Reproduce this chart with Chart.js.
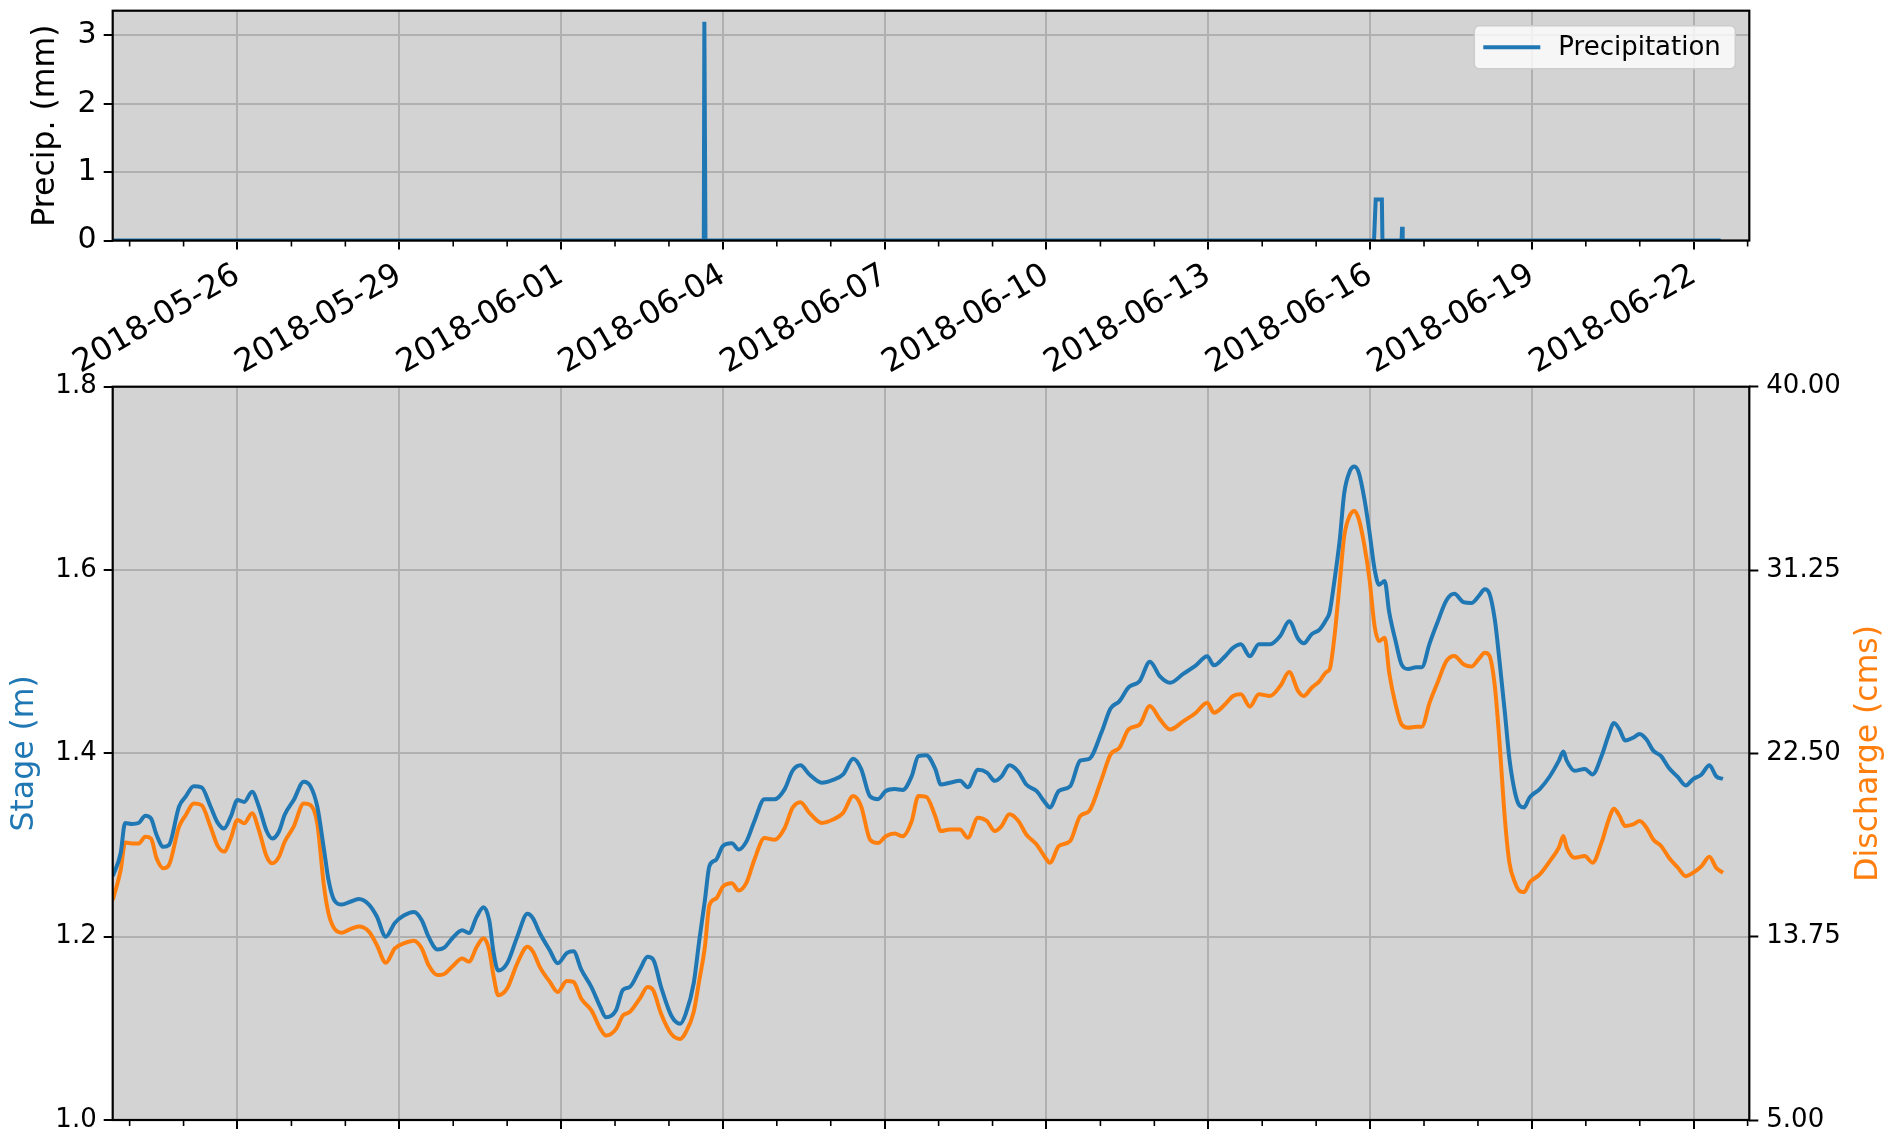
<!DOCTYPE html>
<html>
<head>
<meta charset="utf-8">
<title>Precipitation, stage and discharge</title>
<script src="https://cdn.jsdelivr.net/npm/chart.js@4.4.1/dist/chart.umd.min.js"></script>
<style>
    html, body { margin: 0; padding: 0; background: #ffffff; }
    #wrap { position: relative; width: 1887px; height: 1137px; overflow: hidden; }
    #wrap canvas { position: absolute; left: 0; }
    #precip-chart { top: 0; }
    #stage-chart { top: 360px; }
</style>
</head>
<body>
<div id="wrap">
    <canvas id="precip-chart" width="1887" height="390"></canvas>
    <canvas id="stage-chart" width="1887" height="777"></canvas>
</div>
<script>
// ==================== DATA ====================

// ---- Precipitation (mm) ----
const precipTimes = [
    '2018-05-23 16:30', '2018-06-03 15:30', '2018-06-03 15:45', '2018-06-03 16:00', '2018-06-03 16:15',
    '2018-06-16 01:45', '2018-06-16 02:30', '2018-06-16 05:15', '2018-06-16 05:30',
    '2018-06-16 14:00', '2018-06-16 14:15', '2018-06-16 14:30', '2018-06-22 12:00'
];
const precipValues = [0, 0, 3.2, 3.2, 0, 0, 0.6, 0.6, 0, 0, 0.2, 0, 0];

// ---- Gauge readings: stage (m) and discharge (cms) ----
const gaugeTimes = [
    '2018-05-23 16:30', '2018-05-23 20:00', '2018-05-23 22:00', '2018-05-24 01:00', '2018-05-24 04:00',
    '2018-05-24 07:00', '2018-05-24 09:30', '2018-05-24 12:00', '2018-05-24 15:00', '2018-05-24 17:30',
    '2018-05-24 22:00', '2018-05-25 01:00', '2018-05-25 04:30', '2018-05-25 08:00', '2018-05-25 12:00',
    '2018-05-25 15:00', '2018-05-25 18:00', '2018-05-25 21:00', '2018-05-26 00:00', '2018-05-26 03:00',
    '2018-05-26 06:30', '2018-05-26 09:30', '2018-05-26 13:00', '2018-05-26 15:30', '2018-05-26 18:30',
    '2018-05-26 21:00', '2018-05-27 01:00', '2018-05-27 05:30', '2018-05-27 08:30', '2018-05-27 11:30',
    '2018-05-27 14:30', '2018-05-27 16:30', '2018-05-27 19:00', '2018-05-27 22:30', '2018-05-28 02:00',
    '2018-05-28 06:00', '2018-05-28 10:30', '2018-05-28 14:00', '2018-05-28 18:00', '2018-05-28 22:00',
    '2018-05-29 02:00', '2018-05-29 06:30', '2018-05-29 10:00', '2018-05-29 13:00', '2018-05-29 17:00',
    '2018-05-29 20:00', '2018-05-29 23:30', '2018-05-30 04:00', '2018-05-30 07:00', '2018-05-30 10:30',
    '2018-05-30 13:30', '2018-05-30 16:00', '2018-05-30 18:00', '2018-05-30 20:00', '2018-05-31 00:00',
    '2018-05-31 04:30', '2018-05-31 09:00', '2018-05-31 11:30', '2018-05-31 14:30', '2018-05-31 19:00',
    '2018-05-31 22:30', '2018-06-01 02:30', '2018-06-01 05:30', '2018-06-01 09:00', '2018-06-01 13:30',
    '2018-06-01 17:30', '2018-06-01 20:00', '2018-06-02 00:30', '2018-06-02 03:30', '2018-06-02 06:30',
    '2018-06-02 11:00', '2018-06-02 14:30', '2018-06-02 17:00', '2018-06-02 20:30', '2018-06-03 01:00',
    '2018-06-03 05:00', '2018-06-03 07:30', '2018-06-03 11:00', '2018-06-03 13:30', '2018-06-03 16:00',
    '2018-06-03 18:00', '2018-06-03 21:00', '2018-06-04 00:00', '2018-06-04 04:00', '2018-06-04 07:00',
    '2018-06-04 10:30', '2018-06-04 14:00', '2018-06-04 18:30', '2018-06-04 23:00', '2018-06-05 03:30',
    '2018-06-05 07:00', '2018-06-05 10:30', '2018-06-05 14:30', '2018-06-05 20:00', '2018-06-06 01:00',
    '2018-06-06 05:30', '2018-06-06 10:00', '2018-06-06 13:30', '2018-06-06 17:30', '2018-06-06 21:00',
    '2018-06-07 00:30', '2018-06-07 04:30', '2018-06-07 08:00', '2018-06-07 12:00', '2018-06-07 15:00',
    '2018-06-07 18:30', '2018-06-07 22:30', '2018-06-08 01:00', '2018-06-08 05:00', '2018-06-08 09:30',
    '2018-06-08 13:00', '2018-06-08 17:30', '2018-06-08 21:30', '2018-06-09 01:00', '2018-06-09 04:00',
    '2018-06-09 07:30', '2018-06-09 11:30', '2018-06-09 15:00', '2018-06-09 19:30', '2018-06-09 23:30',
    '2018-06-10 01:30', '2018-06-10 05:30', '2018-06-10 10:30', '2018-06-10 15:00', '2018-06-10 19:00',
    '2018-06-11 00:30', '2018-06-11 04:30', '2018-06-11 08:30', '2018-06-11 12:30', '2018-06-11 17:30',
    '2018-06-11 22:00', '2018-06-12 02:30', '2018-06-12 07:00', '2018-06-12 13:00', '2018-06-12 18:30',
    '2018-06-12 23:30', '2018-06-13 02:30', '2018-06-13 07:30', '2018-06-13 11:00', '2018-06-13 14:30',
    '2018-06-13 18:30', '2018-06-13 22:30', '2018-06-14 03:30', '2018-06-14 08:00', '2018-06-14 12:00',
    '2018-06-14 16:00', '2018-06-14 18:30', '2018-06-14 22:00', '2018-06-15 01:30', '2018-06-15 04:30',
    '2018-06-15 06:00', '2018-06-15 08:00', '2018-06-15 10:30', '2018-06-15 12:30', '2018-06-15 15:00',
    '2018-06-15 17:00', '2018-06-15 19:00', '2018-06-15 21:30', '2018-06-15 23:45', '2018-06-16 02:00',
    '2018-06-16 04:00', '2018-06-16 06:30', '2018-06-16 08:30', '2018-06-16 11:30', '2018-06-16 14:00',
    '2018-06-16 17:00', '2018-06-16 20:30', '2018-06-16 23:00', '2018-06-17 02:30', '2018-06-17 06:00',
    '2018-06-17 10:00', '2018-06-17 13:30', '2018-06-17 17:30', '2018-06-17 21:00', '2018-06-18 00:30',
    '2018-06-18 03:00', '2018-06-18 05:00', '2018-06-18 07:30', '2018-06-18 09:30', '2018-06-18 12:00',
    '2018-06-18 14:00', '2018-06-18 16:30', '2018-06-18 18:30', '2018-06-18 20:30', '2018-06-18 23:00',
    '2018-06-19 03:30', '2018-06-19 08:00', '2018-06-19 12:00', '2018-06-19 14:00', '2018-06-19 15:30',
    '2018-06-19 19:00', '2018-06-19 23:30', '2018-06-20 03:00', '2018-06-20 07:00', '2018-06-20 10:00',
    '2018-06-20 12:30', '2018-06-20 15:00', '2018-06-20 17:30', '2018-06-20 21:00', '2018-06-21 00:00',
    '2018-06-21 03:00', '2018-06-21 06:00', '2018-06-21 09:30', '2018-06-21 13:00', '2018-06-21 17:00',
    '2018-06-21 20:30', '2018-06-21 23:45', '2018-06-22 03:30', '2018-06-22 07:00', '2018-06-22 10:00',
    '2018-06-22 13:00'
];

const stageValues = [
    1.266, 1.291, 1.324, 1.323, 1.324, 1.332, 1.329, 1.311, 1.298, 1.300,
    1.342, 1.353, 1.364, 1.363, 1.342, 1.325, 1.318, 1.331, 1.349, 1.347,
    1.358, 1.342, 1.315, 1.307, 1.315, 1.333, 1.349, 1.369, 1.364, 1.342,
    1.295, 1.262, 1.240, 1.235, 1.238, 1.241, 1.235, 1.222, 1.200, 1.215,
    1.223, 1.227, 1.218, 1.200, 1.186, 1.188, 1.198, 1.207, 1.204, 1.222,
    1.232, 1.218, 1.182, 1.163, 1.171, 1.200, 1.225, 1.220, 1.204, 1.185,
    1.171, 1.182, 1.184, 1.164, 1.145, 1.123, 1.112, 1.120, 1.142, 1.145,
    1.164, 1.178, 1.175, 1.145, 1.114, 1.105, 1.116, 1.149, 1.196, 1.240,
    1.277, 1.284, 1.299, 1.302, 1.295, 1.304, 1.326, 1.350, 1.350, 1.361,
    1.381, 1.387, 1.377, 1.368, 1.371, 1.377, 1.394, 1.383, 1.353, 1.350,
    1.359, 1.361, 1.360, 1.375, 1.397, 1.398, 1.383, 1.366, 1.368, 1.370,
    1.363, 1.382, 1.379, 1.370, 1.375, 1.387, 1.380, 1.366, 1.359, 1.346,
    1.341, 1.359, 1.364, 1.392, 1.394, 1.423, 1.449, 1.457, 1.472, 1.479,
    1.500, 1.484, 1.477, 1.487, 1.496, 1.506, 1.496, 1.506, 1.515, 1.519,
    1.506, 1.519, 1.519, 1.528, 1.544, 1.525, 1.520, 1.530, 1.535, 1.546,
    1.554, 1.586, 1.633, 1.684, 1.708, 1.713, 1.706, 1.677, 1.641, 1.601,
    1.584, 1.588, 1.554, 1.521, 1.497, 1.492, 1.494, 1.494, 1.520, 1.543,
    1.567, 1.574, 1.565, 1.564, 1.572, 1.579, 1.575, 1.546, 1.503, 1.444,
    1.394, 1.357, 1.343, 1.341, 1.352, 1.361, 1.375, 1.392, 1.402, 1.392,
    1.381, 1.383, 1.377, 1.397, 1.419, 1.433, 1.426, 1.414, 1.417, 1.421,
    1.415, 1.403, 1.397, 1.384, 1.374, 1.365, 1.372, 1.377, 1.387, 1.375,
    1.372
];

const dischargeValues = [
    15.50, 16.93, 18.24, 18.20, 18.20, 18.52, 18.44, 17.49, 17.01, 17.17,
    19.00, 19.56, 20.11, 20.03, 19.00, 18.12, 17.81, 18.44, 19.32, 19.16,
    19.64, 18.84, 17.57, 17.25, 17.57, 18.28, 19.00, 20.11, 20.03, 19.16,
    16.14, 14.86, 14.15, 13.94, 14.10, 14.23, 13.99, 13.35, 12.51, 13.19,
    13.43, 13.56, 13.19, 12.40, 11.92, 11.97, 12.32, 12.71, 12.56, 13.27,
    13.67, 13.11, 11.84, 10.96, 11.28, 12.48, 13.27, 13.03, 12.31, 11.59,
    11.11, 11.64, 11.59, 10.79, 10.23, 9.35, 9.03, 9.35, 9.99, 10.15,
    10.79, 11.35, 11.19, 10.07, 9.11, 8.87, 9.19, 10.15, 11.67, 13.27,
    15.26, 15.58, 16.14, 16.30, 15.95, 16.33, 17.42, 18.46, 18.38, 18.94,
    19.90, 20.17, 19.66, 19.18, 19.34, 19.66, 20.46, 19.98, 18.38, 18.22,
    18.54, 18.67, 18.54, 19.26, 20.46, 20.42, 19.50, 18.79, 18.87, 18.87,
    18.47, 19.43, 19.27, 18.79, 19.03, 19.59, 19.27, 18.63, 18.16, 17.52,
    17.28, 18.08, 18.31, 19.51, 19.75, 21.26, 22.45, 22.77, 23.64, 23.88,
    24.76, 24.12, 23.64, 24.04, 24.44, 24.92, 24.44, 24.84, 25.24, 25.32,
    24.73, 25.32, 25.24, 25.71, 26.38, 25.47, 25.24, 25.63, 25.95, 26.38,
    26.51, 27.94, 30.65, 32.87, 33.86, 34.07, 33.67, 32.40, 30.80, 28.58,
    27.86, 28.02, 26.35, 24.76, 23.88, 23.72, 23.77, 23.77, 24.92, 25.87,
    26.91, 27.15, 26.75, 26.64, 27.02, 27.30, 27.18, 25.71, 23.17, 19.35,
    17.28, 16.33, 15.93, 15.88, 16.33, 16.72, 17.36, 18.00, 18.55, 18.00,
    17.52, 17.60, 17.28, 18.24, 19.27, 19.86, 19.51, 19.03, 19.11, 19.27,
    18.95, 18.39, 18.08, 17.52, 17.04, 16.64, 16.80, 17.12, 17.57, 17.04,
    16.80
];

// ---- Axis ticks ----
const dateTicks = [
    '2018-05-26', '2018-05-29', '2018-06-01', '2018-06-04', '2018-06-07',
    '2018-06-10', '2018-06-13', '2018-06-16', '2018-06-19', '2018-06-22'
];
const precipTicks = [0, 1, 2, 3];
const stageTicks = [1.0, 1.2, 1.4, 1.6, 1.8];
const dischargeTicks = [5, 13.75, 22.5, 31.25, 40];

// ==================== HELPERS ====================

const FONT = 'DejaVu Sans';
const BLUE = '#1f77b4';
const ORANGE = '#ff7f0e';
const DAY = 24 * 3600 * 1000;

function toMs(s) {
    return Date.parse(s.replace(' ', 'T') + ':00Z');
}

function pairs(times, values) {
    return times.map(function (t, i) {
        return { x: toMs(t), y: values[i] };
    });
}

const X_MIN = toMs('2018-05-23 16:28');
const X_MAX = toMs('2018-06-23 00:45');
const majorDays = dateTicks.map(function (d) { return toMs(d + ' 00:00'); });

// every midnight inside the x range
const allDays = [];
for (let t = toMs('2018-05-24 00:00'); t <= X_MAX; t += DAY) {
    allDays.push(t);
}

function isMajor(v) {
    return majorDays.indexOf(v) !== -1;
}

function formatDay(v) {
    const d = new Date(v);
    const mm = String(d.getUTCMonth() + 1).padStart(2, '0');
    const dd = String(d.getUTCDate()).padStart(2, '0');
    return d.getUTCFullYear() + '-' + mm + '-' + dd;
}

function fixBox(size) {
    return function (scale) {
        if (scale.isHorizontal()) {
            scale.height = size;
        } else {
            scale.width = size;
        }
        scale.paddingLeft = 0;
        scale.paddingRight = 0;
        scale.paddingTop = 0;
        scale.paddingBottom = 0;
    };
}

function setTicks(list) {
    return function (scale) {
        scale.ticks = list.map(function (v) { return { value: v }; });
    };
}

// ---- Plugins ----
const axesBackground = {
    id: 'axesBackground',
    beforeDraw: function (chart) {
        const a = chart.chartArea;
        chart.ctx.save();
        chart.ctx.fillStyle = '#d3d3d3';
        chart.ctx.fillRect(a.left, a.top, a.right - a.left, a.bottom - a.top);
        chart.ctx.restore();
    }
};

const axesFrame = {
    id: 'axesFrame',
    afterDraw: function (chart) {
        const ctx = chart.ctx;
        const a = chart.chartArea;
        const xScale = chart.scales.x;
        ctx.save();
        // minor day ticks
        ctx.strokeStyle = '#000000';
        ctx.lineWidth = 1.6;
        allDays.forEach(function (t) {
            if (isMajor(t)) return;
            const px = xScale.getPixelForValue(t);
            ctx.beginPath();
            ctx.moveTo(px, a.bottom);
            ctx.lineTo(px, a.bottom + 6);
            ctx.stroke();
        });
        // spines
        ctx.lineWidth = 2.2;
        ctx.strokeRect(a.left, a.top, a.right - a.left, a.bottom - a.top);
        ctx.restore();
    }
};

const precipLegend = {
    id: 'precipLegend',
    afterDraw: function (chart) {
        const ctx = chart.ctx;
        const a = chart.chartArea;
        const w = 261, h = 43;
        const x = a.right - 14 - w;
        const y = a.top + 15;
        ctx.save();
        ctx.beginPath();
        ctx.roundRect(x, y, w, h, 5);
        ctx.fillStyle = 'rgba(255, 255, 255, 0.8)';
        ctx.fill();
        ctx.strokeStyle = '#cccccc';
        ctx.lineWidth = 1.5;
        ctx.stroke();
        ctx.strokeStyle = BLUE;
        ctx.lineWidth = 4;
        ctx.beginPath();
        ctx.moveTo(x + 9, y + h / 2);
        ctx.lineTo(x + 66, y + h / 2);
        ctx.stroke();
        ctx.fillStyle = '#000000';
        ctx.font = '26px "' + FONT + '"';
        ctx.textBaseline = 'middle';
        ctx.fillText(chart.data.datasets[0].label, x + 84, y + h / 2 + 1);
        ctx.restore();
    }
};

const dischargeTitle = {
    id: 'dischargeTitle',
    afterDraw: function (chart) {
        const ctx = chart.ctx;
        const a = chart.chartArea;
        ctx.save();
        ctx.translate(chart.width - 18, (a.top + a.bottom) / 2);
        ctx.rotate(-Math.PI / 2);
        ctx.fillStyle = ORANGE;
        ctx.font = '31.5px "' + FONT + '"';
        ctx.textAlign = 'center';
        ctx.textBaseline = 'middle';
        ctx.fillText('Discharge (cms)', 0, 0);
        ctx.restore();
    }
};

// shared x axis settings
function timeAxis(height, showLabels) {
    return {
        type: 'linear',
        min: X_MIN,
        max: X_MAX,
        afterBuildTicks: setTicks(allDays),
        afterFit: fixBox(height),
        border: { display: false },
        grid: {
            color: function (c) { return isMajor(c.tick.value) ? '#b0b0b0' : 'rgba(0,0,0,0)'; },
            lineWidth: 2,
            tickLength: 9,
            tickWidth: 2,
            tickColor: function (c) { return isMajor(c.tick.value) ? '#000000' : 'rgba(0,0,0,0)'; }
        },
        ticks: {
            display: showLabels,
            autoSkip: false,
            minRotation: 30,
            maxRotation: 30,
            padding: 7,
            color: '#000000',
            font: { family: FONT, size: 32 },
            callback: function (v) { return isMajor(v) ? formatDay(v) : ''; }
        }
    };
}

Chart.defaults.animation = false;
Chart.defaults.font.family = FONT;

// ==================== PRECIPITATION CHART ====================
function createPrecipChart() {
    const ctx = document.getElementById('precip-chart').getContext('2d');
    return new Chart(ctx, {
        type: 'line',
        data: {
            datasets: [{
                label: 'Precipitation',
                data: pairs(precipTimes, precipValues),
                borderColor: BLUE,
                borderWidth: 4,
                pointRadius: 0,
                tension: 0
            }]
        },
        options: {
            responsive: false,
            events: [],
            layout: { padding: { top: 10.7, right: 137.7, bottom: 0, left: 0 } },
            scales: {
                x: timeAxis(149.5, true),
                y: {
                    min: 0,
                    max: 3.36,
                    afterBuildTicks: setTicks(precipTicks),
                    afterFit: fixBox(112.7),
                    border: { display: false },
                    grid: { color: '#b0b0b0', lineWidth: 2, tickLength: 9, tickWidth: 2, tickColor: '#000000' },
                    ticks: {
                        padding: 7,
                        color: '#000000',
                        font: { family: FONT, size: 30 },
                        callback: function (v) { return String(v); }
                    },
                    title: {
                        display: true,
                        text: 'Precip. (mm)',
                        color: '#000000',
                        font: { family: FONT, size: 31.5 },
                        padding: { top: 27, bottom: 0 }
                    }
                }
            },
            plugins: {
                legend: { display: false },
                tooltip: { enabled: false }
            }
        },
        plugins: [axesBackground, axesFrame, precipLegend]
    });
}

// ==================== STAGE / DISCHARGE CHART ====================
function createStageChart() {
    const ctx = document.getElementById('stage-chart').getContext('2d');
    return new Chart(ctx, {
        type: 'line',
        data: {
            datasets: [{
                label: 'Stage',
                data: pairs(gaugeTimes, stageValues),
                yAxisID: 'y',
                borderColor: BLUE,
                borderWidth: 4,
                pointRadius: 0,
                cubicInterpolationMode: 'monotone'
            }, {
                label: 'Discharge',
                data: pairs(gaugeTimes, dischargeValues),
                yAxisID: 'y2',
                borderColor: ORANGE,
                borderWidth: 4,
                pointRadius: 0,
                cubicInterpolationMode: 'monotone'
            }]
        },
        options: {
            responsive: false,
            events: [],
            layout: { padding: { top: 26.7, right: 0, bottom: 0, left: 0 } },
            scales: {
                x: timeAxis(17, false),
                y: {
                    position: 'left',
                    min: 1.0,
                    max: 1.8,
                    afterBuildTicks: setTicks(stageTicks),
                    afterFit: fixBox(112.7),
                    border: { display: false },
                    grid: { color: '#b0b0b0', lineWidth: 2, tickLength: 9, tickWidth: 2, tickColor: '#000000' },
                    ticks: {
                        padding: 7,
                        color: '#000000',
                        font: { family: FONT, size: 26 },
                        callback: function (v) { return v.toFixed(1); }
                    },
                    title: {
                        display: true,
                        text: 'Stage (m)',
                        color: BLUE,
                        font: { family: FONT, size: 31.5 },
                        padding: { top: 6, bottom: 0 }
                    }
                },
                y2: {
                    position: 'right',
                    min: 5,
                    max: 40,
                    afterBuildTicks: setTicks(dischargeTicks),
                    afterFit: fixBox(137.7),
                    border: { display: false },
                    grid: { drawOnChartArea: false, tickLength: 9, tickWidth: 2, tickColor: '#000000' },
                    ticks: {
                        padding: 8,
                        color: '#000000',
                        font: { family: FONT, size: 26 },
                        callback: function (v) { return v.toFixed(2); }
                    }
                }
            },
            plugins: {
                legend: { display: false },
                tooltip: { enabled: false }
            }
        },
        plugins: [axesBackground, axesFrame, dischargeTitle]
    });
}

createPrecipChart();
createStageChart();
</script>
</body>
</html>
